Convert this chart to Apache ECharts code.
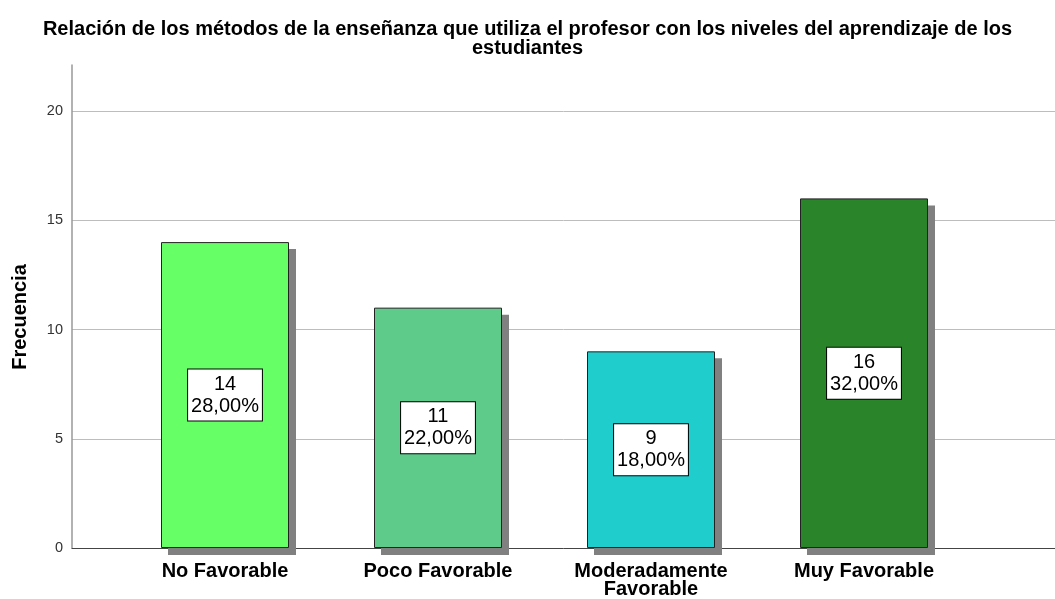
<!DOCTYPE html>
<html><head><meta charset="utf-8">
<script src="https://cdn.jsdelivr.net/npm/echarts@6/dist/echarts.min.js"></script>
<style>html,body{margin:0;padding:0;background:#fff}#c{width:1055px;height:599px}</style>
</head><body><div id="c"></div>
<script>
var categories = ['No Favorable', 'Poco Favorable', 'Moderadamente\nFavorable', 'Muy Favorable'];
var counts = [14, 11, 9, 16];
var percents = ['28,00%', '22,00%', '18,00%', '32,00%'];
var barColors = ['#66ff66', '#5ecb8b', '#1ecdcc', '#2a842a'];
var yTicks = [0, 5, 10, 15, 20];
var titleText = 'Relación de los métodos de la enseñanza que utiliza el profesor con los niveles del aprendizaje de los\nestudiantes';
var yName = 'Frecuencia';

var FONT = '"Liberation Sans", Arial, sans-serif';
var SH = 7; // shadow offset in px
var chart = echarts.init(document.getElementById('c'));
var option = {
  animation: false,
  title: {
    text: titleText, left: 'center', top: 15,
    textStyle: { fontFamily: FONT, fontSize: 20, fontWeight: 'bold', color: '#000', lineHeight: 19 }
  },
  grid: [
    { left: 72, right: 0, top: 111, bottom: 51 },
    { left: 72, right: 0, top: 65, bottom: 51 },
    { left: 118.5, width: 852, top: 111, bottom: 51 },
    { left: 118.5 + SH, width: 852, top: 111 + SH, bottom: 51 - SH }
  ],
  xAxis: [
    { gridIndex: 0, type: 'value', show: false, min: 0, max: 1 },
    { gridIndex: 1, type: 'value', min: 0, max: 1,
      axisLine: { show: true, onZero: false, lineStyle: { color: '#444', width: 1 } },
      axisTick: { show: false }, axisLabel: { show: false }, splitLine: { show: false } },
    { gridIndex: 2, type: 'category', data: categories,
      axisLine: { show: false }, axisTick: { show: false },
      axisLabel: { margin: 14, fontFamily: FONT, fontSize: 20, fontWeight: 'bold', color: '#000', lineHeight: 18, interval: 0 } },
    { gridIndex: 3, type: 'category', data: categories, show: false }
  ],
  yAxis: [
    { gridIndex: 0, type: 'value', min: yTicks[0], max: yTicks[yTicks.length - 1], interval: 5,
      axisLine: { show: false }, axisTick: { show: false },
      axisLabel: { margin: 9, fontFamily: FONT, fontSize: 14.5, color: '#333' },
      splitLine: { show: true, lineStyle: { color: '#bdbdbd', width: 1 } } },
    { gridIndex: 1, type: 'value', min: 0, max: 22.1,
      axisLine: { show: true, lineStyle: { color: '#999', width: 1.5 } },
      axisTick: { show: false }, axisLabel: { show: false }, splitLine: { show: false } },
    { gridIndex: 2, type: 'value', min: 0, max: 20, show: false, splitLine: { show: false } },
    { gridIndex: 3, type: 'value', min: 0, max: 20, show: false, splitLine: { show: false } }
  ],
  graphic: [
    { type: 'text', x: 20, y: 317, rotation: Math.PI / 2,
      style: { text: yName, fontFamily: FONT, fontSize: 20, fontWeight: 'bold', fill: '#000', align: 'center', verticalAlign: 'middle' } }
  ],
  series: [{
    type: 'bar', xAxisIndex: 3, yAxisIndex: 3, barWidth: 128, z: 1, silent: true,
    data: counts,
    itemStyle: { color: '#808080' }
  }, {
    type: 'bar', xAxisIndex: 2, yAxisIndex: 2, barWidth: 128, z: 3,
    data: counts.map(function (v, i) {
      return { value: v, itemStyle: { color: barColors[i] } };
    }),
    itemStyle: { borderColor: '#222', borderWidth: 1 },
    label: {
      show: true, position: 'inside',
      formatter: function (p) { return counts[p.dataIndex] + '\n' + percents[p.dataIndex]; },
      fontFamily: FONT, fontSize: 20, lineHeight: 22, color: '#000',
      backgroundColor: '#fff', borderColor: '#000', borderWidth: 1, padding: [4, 3, 3, 3], align: 'center'
    }
  }]
};
chart.setOption(option);
</script></body></html>
